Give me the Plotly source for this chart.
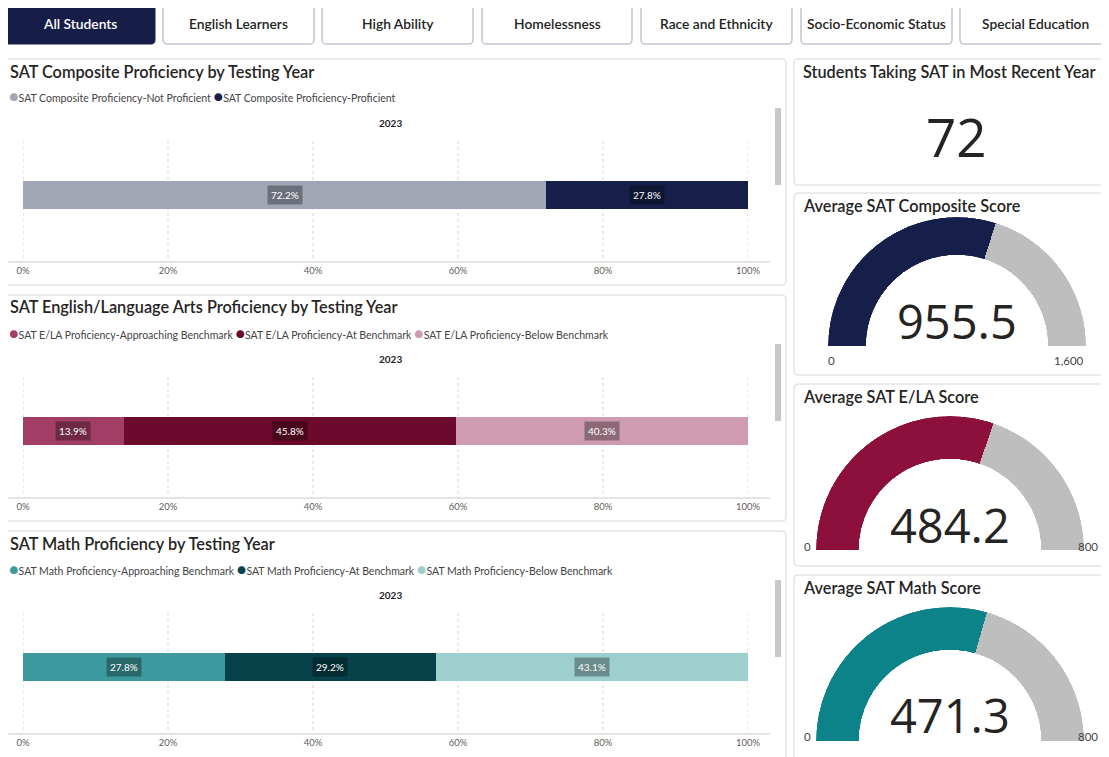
import plotly.graph_objects as go

W, H = 1109, 757
OFF = 8  # page (body) margin of the html page, compensated below

# ---------------- data ----------------
buttons = ["All Students", "English Learners", "High Ability", "Homelessness",
           "Race and Ethnicity", "Socio-Economic Status", "Special Education"]
selected_button = "All Students"

years = ["2023"]

comp_title = "SAT Composite Proficiency by Testing Year"
comp_cats = ["SAT Composite Proficiency-Not Proficient", "SAT Composite Proficiency-Proficient"]
comp_vals = [0.722, 0.278]
comp_colors = ["#A0A6B4", "#161F4A"]

ela_title = "SAT English/Language Arts Proficiency by Testing Year"
ela_cats = ["SAT E/LA Proficiency-Approaching Benchmark", "SAT E/LA Proficiency-At Benchmark",
            "SAT E/LA Proficiency-Below Benchmark"]
ela_vals = [0.139, 0.458, 0.403]
ela_colors = ["#A23D66", "#6B0A2C", "#CE9BB0"]

math_title = "SAT Math Proficiency by Testing Year"
math_cats = ["SAT Math Proficiency-Approaching Benchmark", "SAT Math Proficiency-At Benchmark",
             "SAT Math Proficiency-Below Benchmark"]
math_vals = [0.278, 0.292, 0.431]
math_colors = ["#3D9B9F", "#07424A", "#9DCFCE"]

x_ticks = [0, 0.2, 0.4, 0.6, 0.8, 1.0]

students_title = "Students Taking SAT in Most Recent Year"
students_count = 72

gauge_titles = ["Average SAT Composite Score", "Average SAT E/LA Score", "Average SAT Math Score"]
gauge_values = [955.5, 484.2, 471.3]
gauge_max = [1600, 800, 800]
gauge_colors = ["#161F4A", "#8C0F3C", "#0C8289"]
gauge_track = "#BEBEBE"

# ---------------- helpers ----------------
FONT = "Lato, 'Open Sans', sans-serif"
NUMFONT = "'Open Sans', sans-serif"
TXT = "#252423"
SUB = "#605E5C"


def fx(px):
    return (px - OFF) / W


def fy(py):
    return 1 - (py - OFF) / H


def rrect(x0, y0, x1, y1, r=4):
    p = lambda x, y: f"{fx(x):.5f},{fy(y):.5f}"
    return (f"M{p(x0 + r, y0)} L{p(x1 - r, y0)} Q{p(x1, y0)} {p(x1, y0 + r)} "
            f"L{p(x1, y1 - r)} Q{p(x1, y1)} {p(x1 - r, y1)} L{p(x0 + r, y1)} "
            f"Q{p(x0, y1)} {p(x0, y1 - r)} L{p(x0, y0 + r)} Q{p(x0, y0)} {p(x0 + r, y0)} Z")


fig = go.Figure()
shapes = []
annotations = []

# ---------------- buttons ----------------
btn_x = [(4, 155), (163, 314), (322, 473), (482, 632), (641, 792), (801, 952), (960, 1111)]
for name, (bx0, bx1) in zip(buttons, btn_x):
    sel = name == selected_button
    shapes.append(dict(type="path", path=rrect(bx0, 3, bx1, 44, 4), xref="paper", yref="paper",
                       fillcolor="#161E48" if sel else "white",
                       line=dict(color="#161E48" if sel else "#A4A8B8", width=1), layer="below"))
    annotations.append(dict(x=fx((bx0 + bx1) / 2), y=fy(24), xref="paper", yref="paper",
                            text=name, showarrow=False, xanchor="center", yanchor="middle",
                            font=dict(family=FONT, size=13.8, color="white" if sel else TXT,
                                      weight=600)))

# ---------------- bar panels ----------------
panels = [
    (comp_title, comp_cats, comp_vals, comp_colors),
    (ela_title, ela_cats, ela_vals, ela_colors),
    (math_title, math_cats, math_vals, math_colors),
]
tops = [59, 295, 531]
PX0, PX1 = 23, 748

for i, ((title, cats, vals, colors), top) in enumerate(zip(panels, tops)):
    k = "" if i == 0 else str(i + 1)
    xa, ya = "x" + k, "y" + k
    # panel frame
    shapes.append(dict(type="path", path=rrect(0.5, top, 786, top + 226 if i < 2 else 770, 4),
                       xref="paper", yref="paper", fillcolor="white",
                       line=dict(color="#D6D6D6", width=1), layer="below"))
    # scrollbar
    shapes.append(dict(type="rect", x0=fx(775), x1=fx(781), y0=fy(top + 49), y1=fy(top + 126),
                       xref="paper", yref="paper", fillcolor="#C8C8C8", line=dict(width=0)))
    # axis baseline
    shapes.append(dict(type="line", x0=fx(8), x1=fx(770), y0=fy(top + 203), y1=fy(top + 203),
                       xref="paper", yref="paper", line=dict(color="#C8C8C8", width=1)))
    # dotted gridlines at every tick
    for t in x_ticks:
        shapes.append(dict(type="line", xref=xa, yref=ya + " domain", x0=t, x1=t, y0=0, y1=1,
                           line=dict(color="#D4D4D4", width=1, dash="dot"), layer="below"))
    # title
    annotations.append(dict(x=fx(8), y=fy(top + 12), xref="paper", yref="paper", text=title,
                            showarrow=False, xanchor="left", yanchor="middle",
                            font=dict(family=FONT, size=16.3, color=TXT, weight=600)))
    # legend
    leg = " ".join(f"<span style='color:{c};font-size:16px'>●</span>{n}"
                   for n, c in zip(cats, colors))
    annotations.append(dict(x=fx(7), y=fy(top + 37), xref="paper", yref="paper", text=leg,
                            showarrow=False, xanchor="left", yanchor="middle",
                            font=dict(family=FONT, size=10.5, color="#444444")))
    # year header
    annotations.append(dict(x=fx(390), y=fy(top + 64), xref="paper", yref="paper",
                            text=f"<b>{years[0]}</b>", showarrow=False, xanchor="center",
                            yanchor="middle", font=dict(family=FONT, size=10, color=TXT)))
    # bars
    cum = 0
    for n, v, c in zip(cats, vals, colors):
        fig.add_trace(go.Bar(x=[v], y=years, orientation="h", name=n, marker_color=c,
                             marker_line_width=0, width=0.237, xaxis=xa, yaxis=ya,
                             showlegend=False,
                             hovertemplate=n + ": %{x:.1%}<extra></extra>"))
        annotations.append(dict(x=cum + v / 2, y=0, xref=xa, yref=ya,
                                text=f"{v * 100:.1f}%", showarrow=False,
                                bgcolor="rgba(0,0,0,0.32)", borderpad=3,
                                font=dict(family=FONT, size=10, color="white")))
        cum += v
    axis_kw = dict(domain=[fx(PX0), fx(PX1)], range=[0, 1], tickvals=x_ticks,
                   tickformat=".0%", showgrid=False, zeroline=False, showline=False, ticks="",
                   ticklabelstandoff=5, automargin=False,
                   tickfont=dict(family=FONT, size=9.5, color=SUB), anchor=ya, fixedrange=True)
    yaxis_kw = dict(domain=[fy(top + 199), fy(top + 79)], range=[-0.5526, 0.5],
                    showticklabels=False, showgrid=False, zeroline=False, anchor=xa,
                    fixedrange=True, type="category", automargin=False)
    fig.update_layout(**{("xaxis" + k): axis_kw, ("yaxis" + k): yaxis_kw})

# ---------------- students card ----------------
shapes.append(dict(type="path", path=rrect(794, 59, 1125, 185, 4), xref="paper", yref="paper",
                   fillcolor="white", line=dict(color="#D6D6D6", width=1), layer="below"))
annotations.append(dict(x=fx(801), y=fy(71), xref="paper", yref="paper", text=students_title,
                        showarrow=False, xanchor="left", yanchor="middle",
                        font=dict(family=FONT, size=16.3, color=TXT, weight=600)))
annotations.append(dict(x=fx(957), y=fy(137), xref="paper", yref="paper",
                        text=f"{students_count}", showarrow=False, xanchor="center",
                        yanchor="middle", font=dict(family=NUMFONT, size=53, color=TXT)))

# ---------------- gauges ----------------
card_tops = [193, 384, 575]
card_bots = [375, 566, 770]
geom = [  # cx, cy, r, hole, number center y, label positions
    dict(cx=957, cy=346, r=129, hole=0.705, ny=321,
         l0=dict(x=831, y=360, xanchor="center"), l1=dict(x=1086, y=360, xanchor="right")),
    dict(cx=950, cy=550, r=134, hole=0.68, ny=525,
         l0=dict(x=807, y=546, xanchor="center"), l1=dict(x=1100, y=546, xanchor="right")),
    dict(cx=950, cy=741, r=134, hole=0.68, ny=715,
         l0=dict(x=807, y=736, xanchor="center"), l1=dict(x=1100, y=736, xanchor="right")),
]
for i, (t, v, m, c, g) in enumerate(zip(gauge_titles, gauge_values, gauge_max, gauge_colors, geom)):
    k = "" if i == 0 else str(i + 1)
    pol = "polar" + k
    shapes.append(dict(type="path", path=rrect(794, card_tops[i], 1125, card_bots[i], 4),
                       xref="paper", yref="paper", fillcolor="white",
                       line=dict(color="#D6D6D6", width=1), layer="below"))
    annotations.append(dict(x=fx(801), y=fy(card_tops[i] + 12), xref="paper", yref="paper",
                            text=t, showarrow=False, xanchor="left", yanchor="middle",
                            font=dict(family=FONT, size=16.3, color=TXT, weight=600)))
    frac = v / m
    fig.add_trace(go.Barpolar(r=[1], theta=[180 - frac * 90], width=[frac * 180],
                              marker_color=c, marker_line_width=0, subplot=pol,
                              showlegend=False, hovertemplate=f"{t}: {v}<extra></extra>"))
    fig.add_trace(go.Barpolar(r=[1], theta=[(1 - frac) * 90], width=[(1 - frac) * 180],
                              marker_color=gauge_track, marker_line_width=0, subplot=pol,
                              showlegend=False, hoverinfo="skip"))
    fig.update_layout(**{pol: dict(
        domain=dict(x=[fx(g["cx"] - g["r"]), fx(g["cx"] + g["r"])],
                    y=[fy(g["cy"]), fy(g["cy"] - g["r"])]),
        sector=[0, 180], hole=g["hole"], bgcolor="rgba(0,0,0,0)", bargap=0,
        radialaxis=dict(visible=False, range=[0, 1]),
        angularaxis=dict(visible=False, direction="counterclockwise", rotation=0),
    )})
    annotations.append(dict(x=fx(g["cx"]), y=fy(g["ny"]), xref="paper", yref="paper",
                            text=f"{v:.1f}", showarrow=False, xanchor="center", yanchor="middle",
                            font=dict(family=NUMFONT, size=47, color=TXT)))
    annotations.append(dict(x=fx(g["l0"]["x"]), y=fy(g["l0"]["y"]), xref="paper", yref="paper",
                            text="0", showarrow=False, xanchor=g["l0"]["xanchor"],
                            yanchor="middle", font=dict(family=FONT, size=11.5, color="#444444")))
    annotations.append(dict(x=fx(g["l1"]["x"]), y=fy(g["l1"]["y"]), xref="paper", yref="paper",
                            text=f"{m:,}", showarrow=False, xanchor=g["l1"]["xanchor"],
                            yanchor="middle", font=dict(family=FONT, size=11.5, color="#444444")))

fig.update_layout(
    width=W, height=H, margin=dict(l=0, r=0, t=0, b=0, autoexpand=False),
    paper_bgcolor="white", plot_bgcolor="rgba(0,0,0,0)",
    barmode="stack", showlegend=False,
    shapes=shapes, annotations=annotations,
    font=dict(family=FONT, color=TXT),
)

fig.write_html("out.html")
